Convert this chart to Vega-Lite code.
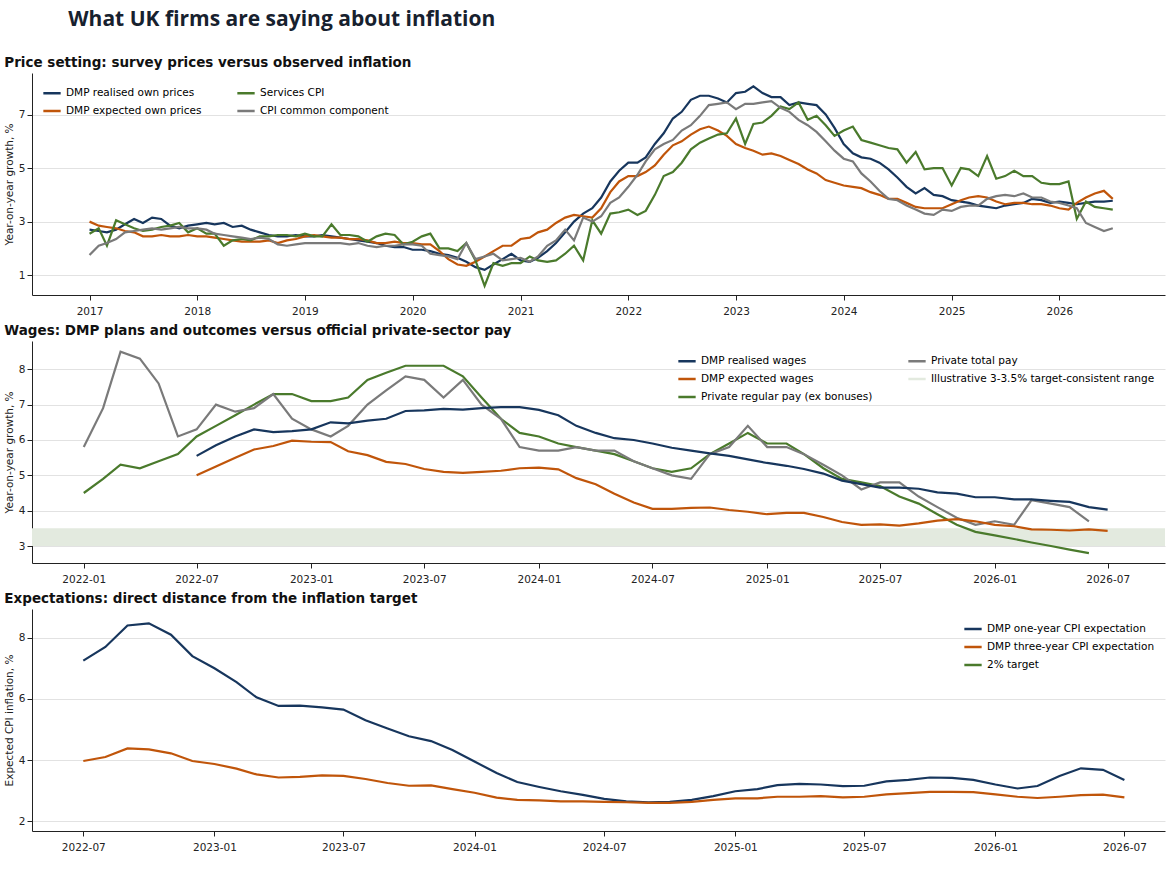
{
  "$schema": "https://vega.github.io/schema/vega-lite/v6.json",
  "padding": {"left": 4, "top": 8, "right": 4, "bottom": 2},
  "title": {"text": "What UK firms are saying about inflation", "anchor": "start", "offset": 26, "dx": 64, "fontSize": 21, "font": "Open Sans", "fontWeight": "bold", "color": "#17212e"},
  "config": {
    "font": "DejaVu Sans",
    "view": {"stroke": null},
    "axis": {"labelFontSize": 10.5, "titleFontSize": 10.5, "titleFontWeight": "normal", "domainColor": "#222", "tickColor": "#222", "labelColor": "#222", "titleColor": "#222"},
    "axisX": {"grid": false},
    "axisY": {"grid": true, "gridColor": "#e2e2e2"},
    "legend": {"labelFontSize": 10.5, "labelLimit": 0, "symbolType": "stroke", "symbolStrokeWidth": 2.5, "symbolSize": 300, "padding": 6, "rowPadding": 2, "columnPadding": 30},
    "title": {"anchor": "start", "fontSize": 13.5, "fontWeight": "bold", "color": "#111", "offset": 4}
  },
  "datasets": {
    "prices": [
      {"d":"2017-01-01","DMP realised own prices":2.7,"DMP expected own prices":3.0,"Services CPI":2.55,"CPI common component":1.75},
      {"d":"2017-02-01","DMP realised own prices":2.65,"DMP expected own prices":2.85,"Services CPI":2.75,"CPI common component":2.1},
      {"d":"2017-03-01","DMP realised own prices":2.6,"DMP expected own prices":2.8,"Services CPI":2.1,"CPI common component":2.2},
      {"d":"2017-04-01","DMP realised own prices":2.7,"DMP expected own prices":2.75,"Services CPI":3.05,"CPI common component":2.35},
      {"d":"2017-05-01","DMP realised own prices":2.9,"DMP expected own prices":2.65,"Services CPI":2.9,"CPI common component":2.6},
      {"d":"2017-06-01","DMP realised own prices":3.1,"DMP expected own prices":2.6,"Services CPI":2.75,"CPI common component":2.65},
      {"d":"2017-07-01","DMP realised own prices":2.95,"DMP expected own prices":2.45,"Services CPI":2.65,"CPI common component":2.7},
      {"d":"2017-08-01","DMP realised own prices":3.15,"DMP expected own prices":2.45,"Services CPI":2.7,"CPI common component":2.75},
      {"d":"2017-09-01","DMP realised own prices":3.1,"DMP expected own prices":2.5,"Services CPI":2.8,"CPI common component":2.7},
      {"d":"2017-10-01","DMP realised own prices":2.85,"DMP expected own prices":2.45,"Services CPI":2.85,"CPI common component":2.75},
      {"d":"2017-11-01","DMP realised own prices":2.75,"DMP expected own prices":2.45,"Services CPI":2.95,"CPI common component":2.8},
      {"d":"2017-12-01","DMP realised own prices":2.85,"DMP expected own prices":2.5,"Services CPI":2.6,"CPI common component":2.75},
      {"d":"2018-01-01","DMP realised own prices":2.9,"DMP expected own prices":2.45,"Services CPI":2.75,"CPI common component":2.75},
      {"d":"2018-02-01","DMP realised own prices":2.95,"DMP expected own prices":2.45,"Services CPI":2.55,"CPI common component":2.7},
      {"d":"2018-03-01","DMP realised own prices":2.9,"DMP expected own prices":2.4,"Services CPI":2.55,"CPI common component":2.55},
      {"d":"2018-04-01","DMP realised own prices":2.95,"DMP expected own prices":2.35,"Services CPI":2.1,"CPI common component":2.5},
      {"d":"2018-05-01","DMP realised own prices":2.8,"DMP expected own prices":2.3,"Services CPI":2.3,"CPI common component":2.45},
      {"d":"2018-06-01","DMP realised own prices":2.85,"DMP expected own prices":2.25,"Services CPI":2.35,"CPI common component":2.4},
      {"d":"2018-07-01","DMP realised own prices":2.7,"DMP expected own prices":2.25,"Services CPI":2.3,"CPI common component":2.35},
      {"d":"2018-08-01","DMP realised own prices":2.6,"DMP expected own prices":2.25,"Services CPI":2.45,"CPI common component":2.4},
      {"d":"2018-09-01","DMP realised own prices":2.5,"DMP expected own prices":2.3,"Services CPI":2.45,"CPI common component":2.35},
      {"d":"2018-10-01","DMP realised own prices":2.45,"DMP expected own prices":2.2,"Services CPI":2.5,"CPI common component":2.15},
      {"d":"2018-11-01","DMP realised own prices":2.45,"DMP expected own prices":2.3,"Services CPI":2.5,"CPI common component":2.1},
      {"d":"2018-12-01","DMP realised own prices":2.5,"DMP expected own prices":2.35,"Services CPI":2.45,"CPI common component":2.15},
      {"d":"2019-01-01","DMP realised own prices":2.45,"DMP expected own prices":2.45,"Services CPI":2.55,"CPI common component":2.2},
      {"d":"2019-02-01","DMP realised own prices":2.45,"DMP expected own prices":2.5,"Services CPI":2.45,"CPI common component":2.2},
      {"d":"2019-03-01","DMP realised own prices":2.5,"DMP expected own prices":2.45,"Services CPI":2.45,"CPI common component":2.2},
      {"d":"2019-04-01","DMP realised own prices":2.45,"DMP expected own prices":2.4,"Services CPI":2.9,"CPI common component":2.2},
      {"d":"2019-05-01","DMP realised own prices":2.4,"DMP expected own prices":2.4,"Services CPI":2.5,"CPI common component":2.2},
      {"d":"2019-06-01","DMP realised own prices":2.35,"DMP expected own prices":2.35,"Services CPI":2.5,"CPI common component":2.15},
      {"d":"2019-07-01","DMP realised own prices":2.3,"DMP expected own prices":2.35,"Services CPI":2.45,"CPI common component":2.2},
      {"d":"2019-08-01","DMP realised own prices":2.25,"DMP expected own prices":2.3,"Services CPI":2.25,"CPI common component":2.1},
      {"d":"2019-09-01","DMP realised own prices":2.2,"DMP expected own prices":2.2,"Services CPI":2.45,"CPI common component":2.05},
      {"d":"2019-10-01","DMP realised own prices":2.1,"DMP expected own prices":2.2,"Services CPI":2.55,"CPI common component":2.1},
      {"d":"2019-11-01","DMP realised own prices":2.05,"DMP expected own prices":2.25,"Services CPI":2.5,"CPI common component":2.1},
      {"d":"2019-12-01","DMP realised own prices":2.05,"DMP expected own prices":2.2,"Services CPI":2.15,"CPI common component":2.15},
      {"d":"2020-01-01","DMP realised own prices":1.95,"DMP expected own prices":2.2,"Services CPI":2.25,"CPI common component":2.15},
      {"d":"2020-02-01","DMP realised own prices":1.95,"DMP expected own prices":2.15,"Services CPI":2.45,"CPI common component":2.1},
      {"d":"2020-03-01","DMP realised own prices":1.9,"DMP expected own prices":2.15,"Services CPI":2.55,"CPI common component":1.8},
      {"d":"2020-04-01","DMP realised own prices":1.8,"DMP expected own prices":1.9,"Services CPI":2.0,"CPI common component":1.75},
      {"d":"2020-05-01","DMP realised own prices":1.75,"DMP expected own prices":1.6,"Services CPI":2.0,"CPI common component":1.7},
      {"d":"2020-06-01","DMP realised own prices":1.65,"DMP expected own prices":1.4,"Services CPI":1.9,"CPI common component":1.6},
      {"d":"2020-07-01","DMP realised own prices":1.5,"DMP expected own prices":1.35,"Services CPI":2.2,"CPI common component":2.2},
      {"d":"2020-08-01","DMP realised own prices":1.3,"DMP expected own prices":1.5,"Services CPI":1.55,"CPI common component":1.6},
      {"d":"2020-09-01","DMP realised own prices":1.2,"DMP expected own prices":1.7,"Services CPI":0.6,"CPI common component":1.7},
      {"d":"2020-10-01","DMP realised own prices":1.4,"DMP expected own prices":1.9,"Services CPI":1.45,"CPI common component":1.8},
      {"d":"2020-11-01","DMP realised own prices":1.6,"DMP expected own prices":2.1,"Services CPI":1.35,"CPI common component":1.55},
      {"d":"2020-12-01","DMP realised own prices":1.8,"DMP expected own prices":2.1,"Services CPI":1.45,"CPI common component":1.6},
      {"d":"2021-01-01","DMP realised own prices":1.55,"DMP expected own prices":2.35,"Services CPI":1.45,"CPI common component":1.65},
      {"d":"2021-02-01","DMP realised own prices":1.5,"DMP expected own prices":2.4,"Services CPI":1.7,"CPI common component":1.5},
      {"d":"2021-03-01","DMP realised own prices":1.65,"DMP expected own prices":2.6,"Services CPI":1.55,"CPI common component":1.7},
      {"d":"2021-04-01","DMP realised own prices":1.9,"DMP expected own prices":2.7,"Services CPI":1.5,"CPI common component":2.1},
      {"d":"2021-05-01","DMP realised own prices":2.2,"DMP expected own prices":2.95,"Services CPI":1.55,"CPI common component":2.3},
      {"d":"2021-06-01","DMP realised own prices":2.6,"DMP expected own prices":3.15,"Services CPI":1.8,"CPI common component":2.7},
      {"d":"2021-07-01","DMP realised own prices":3.0,"DMP expected own prices":3.25,"Services CPI":2.1,"CPI common component":2.3},
      {"d":"2021-08-01","DMP realised own prices":3.3,"DMP expected own prices":3.2,"Services CPI":1.55,"CPI common component":3.15},
      {"d":"2021-09-01","DMP realised own prices":3.5,"DMP expected own prices":3.15,"Services CPI":3.05,"CPI common component":3.0},
      {"d":"2021-10-01","DMP realised own prices":3.9,"DMP expected own prices":3.5,"Services CPI":2.55,"CPI common component":3.2},
      {"d":"2021-11-01","DMP realised own prices":4.5,"DMP expected own prices":4.1,"Services CPI":3.3,"CPI common component":3.7},
      {"d":"2021-12-01","DMP realised own prices":4.9,"DMP expected own prices":4.5,"Services CPI":3.35,"CPI common component":3.9},
      {"d":"2022-01-01","DMP realised own prices":5.2,"DMP expected own prices":4.7,"Services CPI":3.45,"CPI common component":4.3},
      {"d":"2022-02-01","DMP realised own prices":5.2,"DMP expected own prices":4.7,"Services CPI":3.25,"CPI common component":4.75},
      {"d":"2022-03-01","DMP realised own prices":5.4,"DMP expected own prices":4.85,"Services CPI":3.4,"CPI common component":5.25},
      {"d":"2022-04-01","DMP realised own prices":5.9,"DMP expected own prices":5.1,"Services CPI":4.0,"CPI common component":5.7},
      {"d":"2022-05-01","DMP realised own prices":6.3,"DMP expected own prices":5.5,"Services CPI":4.7,"CPI common component":5.9},
      {"d":"2022-06-01","DMP realised own prices":6.85,"DMP expected own prices":5.85,"Services CPI":4.85,"CPI common component":6.05},
      {"d":"2022-07-01","DMP realised own prices":7.1,"DMP expected own prices":6.0,"Services CPI":5.2,"CPI common component":6.4},
      {"d":"2022-08-01","DMP realised own prices":7.55,"DMP expected own prices":6.25,"Services CPI":5.7,"CPI common component":6.6},
      {"d":"2022-09-01","DMP realised own prices":7.7,"DMP expected own prices":6.45,"Services CPI":5.95,"CPI common component":6.95},
      {"d":"2022-10-01","DMP realised own prices":7.7,"DMP expected own prices":6.55,"Services CPI":6.1,"CPI common component":7.35},
      {"d":"2022-11-01","DMP realised own prices":7.6,"DMP expected own prices":6.4,"Services CPI":6.25,"CPI common component":7.4},
      {"d":"2022-12-01","DMP realised own prices":7.45,"DMP expected own prices":6.2,"Services CPI":6.3,"CPI common component":7.45},
      {"d":"2023-01-01","DMP realised own prices":7.8,"DMP expected own prices":5.9,"Services CPI":6.85,"CPI common component":7.2},
      {"d":"2023-02-01","DMP realised own prices":7.85,"DMP expected own prices":5.75,"Services CPI":5.9,"CPI common component":7.4},
      {"d":"2023-03-01","DMP realised own prices":8.05,"DMP expected own prices":5.65,"Services CPI":6.65,"CPI common component":7.4},
      {"d":"2023-04-01","DMP realised own prices":7.8,"DMP expected own prices":5.5,"Services CPI":6.7,"CPI common component":7.45},
      {"d":"2023-05-01","DMP realised own prices":7.65,"DMP expected own prices":5.55,"Services CPI":6.95,"CPI common component":7.5},
      {"d":"2023-06-01","DMP realised own prices":7.65,"DMP expected own prices":5.45,"Services CPI":7.3,"CPI common component":7.25},
      {"d":"2023-07-01","DMP realised own prices":7.35,"DMP expected own prices":5.3,"Services CPI":7.2,"CPI common component":7.1},
      {"d":"2023-08-01","DMP realised own prices":7.45,"DMP expected own prices":5.15,"Services CPI":7.45,"CPI common component":6.8},
      {"d":"2023-09-01","DMP realised own prices":7.4,"DMP expected own prices":4.95,"Services CPI":6.8,"CPI common component":6.6},
      {"d":"2023-10-01","DMP realised own prices":7.35,"DMP expected own prices":4.8,"Services CPI":6.95,"CPI common component":6.35},
      {"d":"2023-11-01","DMP realised own prices":7.0,"DMP expected own prices":4.55,"Services CPI":6.6,"CPI common component":6.0},
      {"d":"2023-12-01","DMP realised own prices":6.5,"DMP expected own prices":4.45,"Services CPI":6.2,"CPI common component":5.65},
      {"d":"2024-01-01","DMP realised own prices":5.9,"DMP expected own prices":4.35,"Services CPI":6.4,"CPI common component":5.35},
      {"d":"2024-02-01","DMP realised own prices":5.55,"DMP expected own prices":4.3,"Services CPI":6.55,"CPI common component":5.25},
      {"d":"2024-03-01","DMP realised own prices":5.4,"DMP expected own prices":4.25,"Services CPI":6.05,"CPI common component":4.8},
      {"d":"2024-04-01","DMP realised own prices":5.35,"DMP expected own prices":4.1,"Services CPI":5.95,"CPI common component":4.5},
      {"d":"2024-05-01","DMP realised own prices":5.2,"DMP expected own prices":4.0,"Services CPI":5.85,"CPI common component":4.15},
      {"d":"2024-06-01","DMP realised own prices":4.95,"DMP expected own prices":3.85,"Services CPI":5.75,"CPI common component":3.85},
      {"d":"2024-07-01","DMP realised own prices":4.65,"DMP expected own prices":3.85,"Services CPI":5.7,"CPI common component":3.8},
      {"d":"2024-08-01","DMP realised own prices":4.3,"DMP expected own prices":3.7,"Services CPI":5.2,"CPI common component":3.6},
      {"d":"2024-09-01","DMP realised own prices":4.05,"DMP expected own prices":3.55,"Services CPI":5.6,"CPI common component":3.45},
      {"d":"2024-10-01","DMP realised own prices":4.25,"DMP expected own prices":3.5,"Services CPI":4.95,"CPI common component":3.3},
      {"d":"2024-11-01","DMP realised own prices":4.0,"DMP expected own prices":3.5,"Services CPI":5.0,"CPI common component":3.25},
      {"d":"2024-12-01","DMP realised own prices":3.95,"DMP expected own prices":3.5,"Services CPI":5.0,"CPI common component":3.45},
      {"d":"2025-01-01","DMP realised own prices":3.8,"DMP expected own prices":3.65,"Services CPI":4.35,"CPI common component":3.4},
      {"d":"2025-02-01","DMP realised own prices":3.75,"DMP expected own prices":3.8,"Services CPI":5.0,"CPI common component":3.55},
      {"d":"2025-03-01","DMP realised own prices":3.7,"DMP expected own prices":3.9,"Services CPI":4.95,"CPI common component":3.6},
      {"d":"2025-04-01","DMP realised own prices":3.6,"DMP expected own prices":3.95,"Services CPI":4.7,"CPI common component":3.6},
      {"d":"2025-05-01","DMP realised own prices":3.55,"DMP expected own prices":3.9,"Services CPI":5.45,"CPI common component":3.85},
      {"d":"2025-06-01","DMP realised own prices":3.5,"DMP expected own prices":3.75,"Services CPI":4.6,"CPI common component":3.95},
      {"d":"2025-07-01","DMP realised own prices":3.6,"DMP expected own prices":3.65,"Services CPI":4.7,"CPI common component":4.0},
      {"d":"2025-08-01","DMP realised own prices":3.65,"DMP expected own prices":3.7,"Services CPI":4.9,"CPI common component":3.95},
      {"d":"2025-09-01","DMP realised own prices":3.7,"DMP expected own prices":3.7,"Services CPI":4.7,"CPI common component":4.05},
      {"d":"2025-10-01","DMP realised own prices":3.85,"DMP expected own prices":3.65,"Services CPI":4.7,"CPI common component":3.9},
      {"d":"2025-11-01","DMP realised own prices":3.8,"DMP expected own prices":3.65,"Services CPI":4.45,"CPI common component":3.9},
      {"d":"2025-12-01","DMP realised own prices":3.7,"DMP expected own prices":3.6,"Services CPI":4.4,"CPI common component":3.75},
      {"d":"2026-01-01","DMP realised own prices":3.75,"DMP expected own prices":3.5,"Services CPI":4.4,"CPI common component":3.7},
      {"d":"2026-02-01","DMP realised own prices":3.7,"DMP expected own prices":3.45,"Services CPI":4.5,"CPI common component":3.6},
      {"d":"2026-03-01","DMP realised own prices":3.65,"DMP expected own prices":3.7,"Services CPI":3.1,"CPI common component":3.5},
      {"d":"2026-04-01","DMP realised own prices":3.7,"DMP expected own prices":3.9,"Services CPI":3.75,"CPI common component":2.95},
      {"d":"2026-05-01","DMP realised own prices":3.75,"DMP expected own prices":4.05,"Services CPI":3.55,"CPI common component":2.8},
      {"d":"2026-06-01","DMP realised own prices":3.75,"DMP expected own prices":4.15,"Services CPI":3.5,"CPI common component":2.65},
      {"d":"2026-07-01","DMP realised own prices":3.78,"DMP expected own prices":3.85,"Services CPI":3.45,"CPI common component":2.75}
    ],
    "wages": [
      {"d":"2022-01-01","DMP realised wages":null,"DMP expected wages":null,"Private regular pay (ex bonuses)":4.5,"Private total pay":5.8},
      {"d":"2022-02-01","DMP realised wages":null,"DMP expected wages":null,"Private regular pay (ex bonuses)":4.9,"Private total pay":6.9},
      {"d":"2022-03-01","DMP realised wages":null,"DMP expected wages":null,"Private regular pay (ex bonuses)":5.3,"Private total pay":8.5},
      {"d":"2022-04-01","DMP realised wages":null,"DMP expected wages":null,"Private regular pay (ex bonuses)":5.2,"Private total pay":8.3},
      {"d":"2022-05-01","DMP realised wages":null,"DMP expected wages":null,"Private regular pay (ex bonuses)":5.4,"Private total pay":7.6},
      {"d":"2022-06-01","DMP realised wages":null,"DMP expected wages":null,"Private regular pay (ex bonuses)":5.6,"Private total pay":6.1},
      {"d":"2022-07-01","DMP realised wages":5.55,"DMP expected wages":5.0,"Private regular pay (ex bonuses)":6.1,"Private total pay":6.3},
      {"d":"2022-08-01","DMP realised wages":5.85,"DMP expected wages":5.25,"Private regular pay (ex bonuses)":6.4,"Private total pay":7.0},
      {"d":"2022-09-01","DMP realised wages":6.1,"DMP expected wages":5.5,"Private regular pay (ex bonuses)":6.7,"Private total pay":6.8},
      {"d":"2022-10-01","DMP realised wages":6.3,"DMP expected wages":5.73,"Private regular pay (ex bonuses)":7.0,"Private total pay":6.9},
      {"d":"2022-11-01","DMP realised wages":6.22,"DMP expected wages":5.83,"Private regular pay (ex bonuses)":7.3,"Private total pay":7.3},
      {"d":"2022-12-01","DMP realised wages":6.25,"DMP expected wages":5.98,"Private regular pay (ex bonuses)":7.3,"Private total pay":6.6},
      {"d":"2023-01-01","DMP realised wages":6.3,"DMP expected wages":5.95,"Private regular pay (ex bonuses)":7.1,"Private total pay":6.3},
      {"d":"2023-02-01","DMP realised wages":6.5,"DMP expected wages":5.94,"Private regular pay (ex bonuses)":7.1,"Private total pay":6.1},
      {"d":"2023-03-01","DMP realised wages":6.47,"DMP expected wages":5.68,"Private regular pay (ex bonuses)":7.2,"Private total pay":6.4},
      {"d":"2023-04-01","DMP realised wages":6.55,"DMP expected wages":5.57,"Private regular pay (ex bonuses)":7.7,"Private total pay":7.0},
      {"d":"2023-05-01","DMP realised wages":6.6,"DMP expected wages":5.38,"Private regular pay (ex bonuses)":7.9,"Private total pay":7.4},
      {"d":"2023-06-01","DMP realised wages":6.82,"DMP expected wages":5.32,"Private regular pay (ex bonuses)":8.1,"Private total pay":7.8},
      {"d":"2023-07-01","DMP realised wages":6.84,"DMP expected wages":5.18,"Private regular pay (ex bonuses)":8.1,"Private total pay":7.7},
      {"d":"2023-08-01","DMP realised wages":6.88,"DMP expected wages":5.1,"Private regular pay (ex bonuses)":8.1,"Private total pay":7.2},
      {"d":"2023-09-01","DMP realised wages":6.86,"DMP expected wages":5.07,"Private regular pay (ex bonuses)":7.8,"Private total pay":7.7},
      {"d":"2023-10-01","DMP realised wages":6.9,"DMP expected wages":5.1,"Private regular pay (ex bonuses)":7.2,"Private total pay":7.0},
      {"d":"2023-11-01","DMP realised wages":6.93,"DMP expected wages":5.13,"Private regular pay (ex bonuses)":6.6,"Private total pay":6.6},
      {"d":"2023-12-01","DMP realised wages":6.93,"DMP expected wages":5.2,"Private regular pay (ex bonuses)":6.2,"Private total pay":5.8},
      {"d":"2024-01-01","DMP realised wages":6.85,"DMP expected wages":5.22,"Private regular pay (ex bonuses)":6.1,"Private total pay":5.7},
      {"d":"2024-02-01","DMP realised wages":6.7,"DMP expected wages":5.17,"Private regular pay (ex bonuses)":5.9,"Private total pay":5.7},
      {"d":"2024-03-01","DMP realised wages":6.4,"DMP expected wages":4.92,"Private regular pay (ex bonuses)":5.8,"Private total pay":5.8},
      {"d":"2024-04-01","DMP realised wages":6.2,"DMP expected wages":4.75,"Private regular pay (ex bonuses)":5.7,"Private total pay":5.7},
      {"d":"2024-05-01","DMP realised wages":6.05,"DMP expected wages":4.48,"Private regular pay (ex bonuses)":5.6,"Private total pay":5.7},
      {"d":"2024-06-01","DMP realised wages":6.0,"DMP expected wages":4.23,"Private regular pay (ex bonuses)":5.4,"Private total pay":5.4},
      {"d":"2024-07-01","DMP realised wages":5.9,"DMP expected wages":4.05,"Private regular pay (ex bonuses)":5.2,"Private total pay":5.2},
      {"d":"2024-08-01","DMP realised wages":5.78,"DMP expected wages":4.05,"Private regular pay (ex bonuses)":5.1,"Private total pay":5.0},
      {"d":"2024-09-01","DMP realised wages":5.7,"DMP expected wages":4.08,"Private regular pay (ex bonuses)":5.2,"Private total pay":4.9},
      {"d":"2024-10-01","DMP realised wages":5.62,"DMP expected wages":4.09,"Private regular pay (ex bonuses)":5.6,"Private total pay":5.6},
      {"d":"2024-11-01","DMP realised wages":5.55,"DMP expected wages":4.02,"Private regular pay (ex bonuses)":5.9,"Private total pay":5.8},
      {"d":"2024-12-01","DMP realised wages":5.45,"DMP expected wages":3.97,"Private regular pay (ex bonuses)":6.2,"Private total pay":6.4},
      {"d":"2025-01-01","DMP realised wages":5.35,"DMP expected wages":3.9,"Private regular pay (ex bonuses)":5.9,"Private total pay":5.8},
      {"d":"2025-02-01","DMP realised wages":5.27,"DMP expected wages":3.94,"Private regular pay (ex bonuses)":5.9,"Private total pay":5.8},
      {"d":"2025-03-01","DMP realised wages":5.18,"DMP expected wages":3.94,"Private regular pay (ex bonuses)":5.6,"Private total pay":5.6},
      {"d":"2025-04-01","DMP realised wages":5.05,"DMP expected wages":3.82,"Private regular pay (ex bonuses)":5.2,"Private total pay":5.3},
      {"d":"2025-05-01","DMP realised wages":4.85,"DMP expected wages":3.68,"Private regular pay (ex bonuses)":4.9,"Private total pay":5.0},
      {"d":"2025-06-01","DMP realised wages":4.75,"DMP expected wages":3.6,"Private regular pay (ex bonuses)":4.8,"Private total pay":4.6},
      {"d":"2025-07-01","DMP realised wages":4.65,"DMP expected wages":3.61,"Private regular pay (ex bonuses)":4.7,"Private total pay":4.8},
      {"d":"2025-08-01","DMP realised wages":4.65,"DMP expected wages":3.58,"Private regular pay (ex bonuses)":4.4,"Private total pay":4.8},
      {"d":"2025-09-01","DMP realised wages":4.62,"DMP expected wages":3.64,"Private regular pay (ex bonuses)":4.2,"Private total pay":4.4},
      {"d":"2025-10-01","DMP realised wages":4.52,"DMP expected wages":3.72,"Private regular pay (ex bonuses)":3.9,"Private total pay":4.1},
      {"d":"2025-11-01","DMP realised wages":4.48,"DMP expected wages":3.76,"Private regular pay (ex bonuses)":3.6,"Private total pay":3.8},
      {"d":"2025-12-01","DMP realised wages":4.38,"DMP expected wages":3.7,"Private regular pay (ex bonuses)":3.4,"Private total pay":3.6},
      {"d":"2026-01-01","DMP realised wages":4.38,"DMP expected wages":3.6,"Private regular pay (ex bonuses)":3.3,"Private total pay":3.7},
      {"d":"2026-02-01","DMP realised wages":4.32,"DMP expected wages":3.56,"Private regular pay (ex bonuses)":3.2,"Private total pay":3.6},
      {"d":"2026-03-01","DMP realised wages":4.32,"DMP expected wages":3.47,"Private regular pay (ex bonuses)":3.1,"Private total pay":4.3},
      {"d":"2026-04-01","DMP realised wages":4.28,"DMP expected wages":3.46,"Private regular pay (ex bonuses)":3.0,"Private total pay":4.2},
      {"d":"2026-05-01","DMP realised wages":4.25,"DMP expected wages":3.44,"Private regular pay (ex bonuses)":2.9,"Private total pay":4.1},
      {"d":"2026-06-01","DMP realised wages":4.1,"DMP expected wages":3.47,"Private regular pay (ex bonuses)":2.8,"Private total pay":3.7},
      {"d":"2026-07-01","DMP realised wages":4.03,"DMP expected wages":3.43,"Private regular pay (ex bonuses)":null,"Private total pay":null}
    ],
    "band": [
      {"label": "Illustrative 3-3.5% target-consistent range", "lo": 3, "hi": 3.5}
    ],
    "expect": [
      {"d":"2022-07-01","DMP one-year CPI expectation":7.25,"DMP three-year CPI expectation":3.97},
      {"d":"2022-08-01","DMP one-year CPI expectation":7.7,"DMP three-year CPI expectation":4.1},
      {"d":"2022-09-01","DMP one-year CPI expectation":8.4,"DMP three-year CPI expectation":4.38},
      {"d":"2022-10-01","DMP one-year CPI expectation":8.47,"DMP three-year CPI expectation":4.35},
      {"d":"2022-11-01","DMP one-year CPI expectation":8.1,"DMP three-year CPI expectation":4.22},
      {"d":"2022-12-01","DMP one-year CPI expectation":7.4,"DMP three-year CPI expectation":3.97},
      {"d":"2023-01-01","DMP one-year CPI expectation":7.0,"DMP three-year CPI expectation":3.87},
      {"d":"2023-02-01","DMP one-year CPI expectation":6.55,"DMP three-year CPI expectation":3.72},
      {"d":"2023-03-01","DMP one-year CPI expectation":6.05,"DMP three-year CPI expectation":3.53},
      {"d":"2023-04-01","DMP one-year CPI expectation":5.77,"DMP three-year CPI expectation":3.43},
      {"d":"2023-05-01","DMP one-year CPI expectation":5.78,"DMP three-year CPI expectation":3.45},
      {"d":"2023-06-01","DMP one-year CPI expectation":5.72,"DMP three-year CPI expectation":3.5},
      {"d":"2023-07-01","DMP one-year CPI expectation":5.65,"DMP three-year CPI expectation":3.48},
      {"d":"2023-08-01","DMP one-year CPI expectation":5.3,"DMP three-year CPI expectation":3.38},
      {"d":"2023-09-01","DMP one-year CPI expectation":5.03,"DMP three-year CPI expectation":3.25},
      {"d":"2023-10-01","DMP one-year CPI expectation":4.78,"DMP three-year CPI expectation":3.16},
      {"d":"2023-11-01","DMP one-year CPI expectation":4.62,"DMP three-year CPI expectation":3.17},
      {"d":"2023-12-01","DMP one-year CPI expectation":4.33,"DMP three-year CPI expectation":3.05},
      {"d":"2024-01-01","DMP one-year CPI expectation":3.95,"DMP three-year CPI expectation":2.93},
      {"d":"2024-02-01","DMP one-year CPI expectation":3.58,"DMP three-year CPI expectation":2.77},
      {"d":"2024-03-01","DMP one-year CPI expectation":3.28,"DMP three-year CPI expectation":2.7},
      {"d":"2024-04-01","DMP one-year CPI expectation":3.12,"DMP three-year CPI expectation":2.68},
      {"d":"2024-05-01","DMP one-year CPI expectation":2.98,"DMP three-year CPI expectation":2.65},
      {"d":"2024-06-01","DMP one-year CPI expectation":2.86,"DMP three-year CPI expectation":2.65},
      {"d":"2024-07-01","DMP one-year CPI expectation":2.73,"DMP three-year CPI expectation":2.63},
      {"d":"2024-08-01","DMP one-year CPI expectation":2.65,"DMP three-year CPI expectation":2.62},
      {"d":"2024-09-01","DMP one-year CPI expectation":2.62,"DMP three-year CPI expectation":2.6},
      {"d":"2024-10-01","DMP one-year CPI expectation":2.63,"DMP three-year CPI expectation":2.6},
      {"d":"2024-11-01","DMP one-year CPI expectation":2.7,"DMP three-year CPI expectation":2.63},
      {"d":"2024-12-01","DMP one-year CPI expectation":2.82,"DMP three-year CPI expectation":2.7},
      {"d":"2025-01-01","DMP one-year CPI expectation":2.98,"DMP three-year CPI expectation":2.75},
      {"d":"2025-02-01","DMP one-year CPI expectation":3.05,"DMP three-year CPI expectation":2.75},
      {"d":"2025-03-01","DMP one-year CPI expectation":3.18,"DMP three-year CPI expectation":2.8},
      {"d":"2025-04-01","DMP one-year CPI expectation":3.22,"DMP three-year CPI expectation":2.8},
      {"d":"2025-05-01","DMP one-year CPI expectation":3.2,"DMP three-year CPI expectation":2.82},
      {"d":"2025-06-01","DMP one-year CPI expectation":3.15,"DMP three-year CPI expectation":2.78},
      {"d":"2025-07-01","DMP one-year CPI expectation":3.16,"DMP three-year CPI expectation":2.8},
      {"d":"2025-08-01","DMP one-year CPI expectation":3.3,"DMP three-year CPI expectation":2.88},
      {"d":"2025-09-01","DMP one-year CPI expectation":3.35,"DMP three-year CPI expectation":2.92},
      {"d":"2025-10-01","DMP one-year CPI expectation":3.43,"DMP three-year CPI expectation":2.96},
      {"d":"2025-11-01","DMP one-year CPI expectation":3.42,"DMP three-year CPI expectation":2.96},
      {"d":"2025-12-01","DMP one-year CPI expectation":3.35,"DMP three-year CPI expectation":2.95},
      {"d":"2026-01-01","DMP one-year CPI expectation":3.2,"DMP three-year CPI expectation":2.88},
      {"d":"2026-02-01","DMP one-year CPI expectation":3.07,"DMP three-year CPI expectation":2.8},
      {"d":"2026-03-01","DMP one-year CPI expectation":3.15,"DMP three-year CPI expectation":2.76},
      {"d":"2026-04-01","DMP one-year CPI expectation":3.48,"DMP three-year CPI expectation":2.8},
      {"d":"2026-05-01","DMP one-year CPI expectation":3.73,"DMP three-year CPI expectation":2.85},
      {"d":"2026-06-01","DMP one-year CPI expectation":3.68,"DMP three-year CPI expectation":2.87},
      {"d":"2026-07-01","DMP one-year CPI expectation":3.35,"DMP three-year CPI expectation":2.78}
    ]
  },
  "vconcat": [
    {
      "title": "Price setting: survey prices versus observed inflation",
      "width": 1133,
      "height": 222,
      "layer": [
        {
          "data": {"name": "prices"},
          "transform": [{"fold": ["DMP realised own prices", "DMP expected own prices", "Services CPI", "CPI common component"], "as": ["series", "value"]}],
          "mark": {"type": "line", "strokeWidth": 2.2},
          "encoding": {
            "x": {"field": "d", "type": "temporal", "title": null, "scale": {"domain": ["2016-06-20", "2026-12-25"]}, "axis": {"format": "%Y", "tickCount": {"interval": "year", "step": 1}, "labelPadding": 6, "tickSize": 5}},
            "y": {"field": "value", "type": "quantitative", "title": "Year-on-year growth, %", "scale": {"domain": [0.26, 8.55], "nice": false}, "axis": {"values": [1, 2, 3, 4, 5, 6, 7, 8]}},
            "color": {"field": "series", "type": "nominal", "scale": {"domain": ["DMP realised own prices", "DMP expected own prices", "Services CPI", "CPI common component"], "range": ["#17365d", "#c0550a", "#4a7a2c", "#7a7a7a"]}, "legend": {"title": null, "orient": "top-left", "columns": 2, "offset": 4}},
            "detail": {"field": "series"}
          }
        },
        {
          "mark": {"type": "rule", "color": "#888", "strokeWidth": 1.2},
          "encoding": {"y": {"datum": 2}}
        }
      ]
    },
    {
      "title": "Wages: DMP plans and outcomes versus official private-sector pay",
      "width": 1133,
      "height": 222,
      "layer": [
        {
          "data": {"name": "band"},
          "mark": {"type": "rect"},
          "encoding": {
            "y": {"field": "lo", "type": "quantitative", "title": "Year-on-year growth, %", "scale": {"domain": [2.52, 8.8], "nice": false}, "axis": {"values": [3, 4, 5, 6, 7, 8]}},
            "y2": {"field": "hi"},
            "color": {"field": "label", "type": "nominal"}
          }
        },
        {
          "data": {"name": "wages"},
          "transform": [{"fold": ["DMP realised wages", "DMP expected wages", "Private regular pay (ex bonuses)", "Private total pay"], "as": ["series", "value"]}, {"filter": "isValid(datum.value)"}],
          "mark": {"type": "line", "strokeWidth": 2.2},
          "encoding": {
            "x": {"field": "d", "type": "temporal", "title": null, "scale": {"domain": ["2021-10-10", "2026-10-01"]}, "axis": {"format": "%Y-%m", "tickCount": {"interval": "month", "step": 6}, "labelPadding": 6, "tickSize": 5}},
            "y": {"field": "value", "type": "quantitative", "title": "Year-on-year growth, %", "scale": {"domain": [2.52, 8.8], "nice": false}, "axis": {"values": [3, 4, 5, 6, 7, 8]}},
            "color": {"field": "series", "type": "nominal", "scale": {"domain": ["DMP realised wages", "DMP expected wages", "Private regular pay (ex bonuses)", "Private total pay", "Illustrative 3-3.5% target-consistent range"], "range": ["#17365d", "#c0550a", "#4a7a2c", "#7a7a7a", "#e3eadf"]}, "legend": {"title": null, "orient": "top-right", "columns": 2, "offset": 4}},
            "detail": {"field": "series"}
          }
        }
      ]
    },
    {
      "title": "Expectations: direct distance from the inflation target",
      "width": 1133,
      "height": 222,
      "layer": [
        {
          "data": {"name": "expect"},
          "transform": [{"fold": ["DMP one-year CPI expectation", "DMP three-year CPI expectation"], "as": ["series", "value"]}],
          "mark": {"type": "line", "strokeWidth": 2.2},
          "encoding": {
            "x": {"field": "d", "type": "temporal", "title": null, "scale": {"domain": ["2022-04-20", "2026-08-27"]}, "axis": {"format": "%Y-%m", "tickCount": {"interval": "month", "step": 6}, "labelPadding": 6, "tickSize": 5}},
            "y": {"field": "value", "type": "quantitative", "title": "Expected CPI inflation, %", "scale": {"domain": [1.68, 8.94], "nice": false}, "axis": {"values": [2, 3, 4, 5, 6, 7, 8]}},
            "color": {"field": "series", "type": "nominal", "scale": {"domain": ["DMP one-year CPI expectation", "DMP three-year CPI expectation", "2% target"], "range": ["#17365d", "#c0550a", "#4a7a2c"]}, "legend": {"title": null, "orient": "top-right", "offset": 4}},
            "detail": {"field": "series"}
          }
        },
        {
          "mark": {"type": "rule", "strokeWidth": 2},
          "encoding": {"y": {"datum": 2}, "color": {"datum": "2% target"}}
        }
      ]
    }
  ],
  "resolve": {"scale": {"color": "independent", "x": "independent", "y": "independent"}, "legend": {"color": "independent"}},
  "spacing": 6
}
